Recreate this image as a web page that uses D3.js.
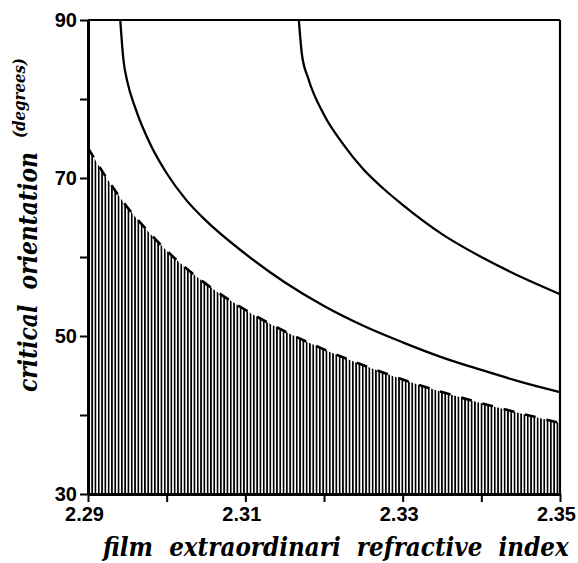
<!DOCTYPE html>
<html>
<head>
<meta charset="utf-8">
<script src="https://cdn.jsdelivr.net/npm/d3@7"></script>
<style>
  body { margin: 0; background: #fff; }
  .tick text { font-family: "Liberation Sans", Arial, sans-serif; font-weight: bold; font-size: 20px; fill: #000; }
  .title { font-family: "DejaVu Serif", serif; font-style: italic; font-weight: bold; fill: #000; white-space: pre; }
</style>
</head>
<body>
<svg id="chart" width="578" height="563"></svg>
<script>
// Axis ticks (empty label = minor tick)
const xTicks = [2.29, 2.30, 2.31, 2.32, 2.33, 2.34, 2.35];
const xTickLabels = ["2.29", "", "2.31", "", "2.33", "", "2.35"];
const yTicks = [30, 40, 50, 60, 70, 80, 90];
const yTickLabels = ["30", "", "50", "", "70", "", "90"];

// Lower boundary (dashed) – the hatched region lies beneath it
const boundaryIndex = [2.290, 2.2925, 2.295, 2.2975, 2.300, 2.305, 2.310, 2.315, 2.320, 2.325, 2.330, 2.335, 2.340, 2.345, 2.350];
const boundaryAngle = [73.8, 69.8, 66.3, 63.4, 60.8, 56.6, 53.3, 50.6, 48.3, 46.3, 44.5, 42.9, 41.5, 40.2, 39.0];

// First solid curve
const curveAIndex = [2.2941, 2.2945, 2.295, 2.296, 2.298, 2.300, 2.3025, 2.305, 2.310, 2.315, 2.320, 2.325, 2.330, 2.335, 2.340, 2.345, 2.350];
const curveAAngle = [90.0, 85.0, 82.2, 78.9, 74.1, 70.6, 67.2, 64.6, 60.4, 56.8, 53.8, 51.3, 49.2, 47.3, 45.7, 44.2, 42.9];

// Second solid curve
const curveBIndex = [2.3168, 2.3172, 2.318, 2.320, 2.3225, 2.325, 2.3275, 2.330, 2.335, 2.340, 2.345, 2.350];
const curveBAngle = [90.0, 85.6, 82.6, 78.0, 74.2, 71.1, 68.7, 66.6, 62.9, 60.0, 57.5, 55.3];

const zip = (xs, ys) => xs.map((v, i) => ({ n: v, a: ys[i] }));
const boundary = zip(boundaryIndex, boundaryAngle);
const curveA = zip(curveAIndex, curveAAngle);
const curveB = zip(curveBIndex, curveBAngle);

const svg = d3.select("#chart");
const x = d3.scaleLinear().domain([2.29, 2.35]).range([88, 560]);
const y = d3.scaleLinear().domain([30, 90]).range([494, 20]);

const defs = svg.append("defs");
defs.append("clipPath").attr("id", "plot")
  .append("rect")
  .attr("x", x.range()[0]).attr("y", y.range()[1])
  .attr("width", x.range()[1] - x.range()[0])
  .attr("height", y.range()[0] - y.range()[1]);

// vertical hatching
const pat = defs.append("pattern").attr("id", "hatch")
  .attr("patternUnits", "userSpaceOnUse")
  .attr("x", x.range()[0]).attr("y", 0)
  .attr("width", 3.3).attr("height", 20);
pat.append("rect").attr("x", 0).attr("y", 0).attr("width", 1.7).attr("height", 20).attr("fill", "#000");

const plot = svg.append("g").attr("clip-path", "url(#plot)");

const area = d3.area()
  .x(d => x(d.n))
  .y0(y(30))
  .y1(d => y(d.a))
  .curve(d3.curveMonotoneX);

plot.append("path").datum(boundary)
  .attr("d", area)
  .attr("fill", "url(#hatch)");

const line = d3.line().x(d => x(d.n)).y(d => y(d.a)).curve(d3.curveMonotoneX);

plot.append("path").datum(boundary)
  .attr("d", line)
  .attr("fill", "none").attr("stroke", "#000")
  .attr("stroke-width", 2.6)
  .attr("stroke-dasharray", "11,11");

[curveA, curveB].forEach(c => {
  plot.append("path").datum(c)
    .attr("d", line)
    .attr("fill", "none").attr("stroke", "#000")
    .attr("stroke-width", 2.3);
});

// axes
const xAxis = d3.axisBottom(x).tickValues(xTicks).tickSize(8).tickSizeOuter(0).tickPadding(5)
  .tickFormat((d, i) => xTickLabels[i]);
const yAxis = d3.axisLeft(y).tickValues(yTicks).tickSize(8).tickSizeOuter(0).tickPadding(3)
  .tickFormat((d, i) => yTickLabels[i]);

const gx = svg.append("g").attr("transform", `translate(0,${y(30)})`).call(xAxis);
const gy = svg.append("g").attr("transform", `translate(${x(2.29)},0)`).call(yAxis);
gx.select(".domain").attr("stroke-width", 3);
gy.select(".domain").attr("stroke-width", 3);
gx.selectAll(".tick line").attr("stroke-width", 2);
gy.selectAll(".tick line").attr("stroke-width", 2);
gx.selectAll(".tick text").attr("dx", -4);

// top and right frame
svg.append("line")
  .attr("x1", x(2.29)).attr("x2", x(2.35)).attr("y1", y(90)).attr("y2", y(90))
  .attr("stroke", "#000").attr("stroke-width", 2.2);
svg.append("line")
  .attr("x1", x(2.35)).attr("x2", x(2.35)).attr("y1", y(90)).attr("y2", y(30))
  .attr("stroke", "#000").attr("stroke-width", 2.2);

// axis titles: set in a tall face, then squeezed horizontally to the wanted run length
function fittedTitle(str, size, px, py, angle, width) {
  const g = svg.append("g").attr("transform", `translate(${px},${py}) rotate(${angle})`);
  const t = g.append("text").attr("class", "title").attr("font-size", size).text(str);
  const natural = t.node().getComputedTextLength();
  const k = Math.min(1, width / natural);
  t.attr("transform", `scale(${k},1)`);
  return t;
}

fittedTitle("film  extraordinari  refractive  index", 26, 103, 556, 0, 466);
fittedTitle("critical  orientation", 26, 37, 392, -90, 240);
fittedTitle("(degrees)", 16, 25, 138, -90, 80);
</script>
</body>
</html>
